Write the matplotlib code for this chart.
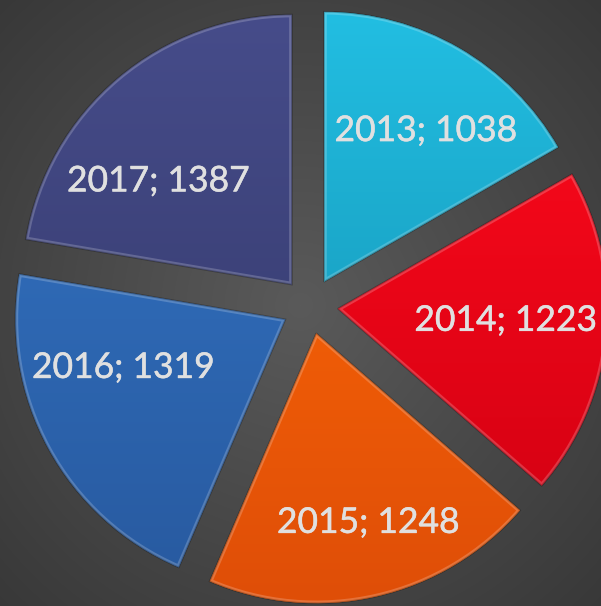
import numpy as np
import matplotlib
matplotlib.use("Agg")
import matplotlib.pyplot as plt
import matplotlib.patheffects as pe
from matplotlib.colors import to_rgb

years = ["2013", "2014", "2015", "2016", "2017"]
values = [1038, 1223, 1248, 1319, 1387]
top_colors = ["#22BEE2", "#FF0A1C", "#FF6A05", "#3374C4", "#464C8A"]
bot_colors = ["#138EAE", "#D00012", "#DF4E08", "#285AA0", "#333869"]
label_dist = [0.673, 0.622, 0.728, 0.628, 0.626]
label_rot = [-3.9, 1.4, 2.4, -11.9, 12.2]

W, H = 601, 606
fig = plt.figure(figsize=(W / 100, H / 100), dpi=100)
ax = fig.add_axes([0, 0, 1, 1])

# background radial gradient
yy, xx = np.mgrid[0:H, 0:W]
rr = np.hypot(xx - 300, yy - 300) / 430
rr = np.clip(rr, 0, 1)
c0 = np.array(to_rgb("#5a5a5a"))
c1 = np.array(to_rgb("#383838"))
bg = c0[None, None, :] * (1 - rr[..., None]) + c1[None, None, :] * rr[..., None]
ax.imshow(bg, extent=[0, W, 0, H], origin="lower", zorder=0)

cx, cy, R = 310, 300, 270
explode = [28] * len(values)
wedges, texts = ax.pie(values, radius=R, center=(cx, cy), explode=explode,
                       startangle=90, counterclock=False,
                       colors=top_colors, frame=True,
                       wedgeprops=dict(linewidth=0))
ax.set_xlim(0, W)
ax.set_ylim(0, H)
ax.set_aspect("equal")
ax.axis("off")

for i, w in enumerate(wedges):
    w.set_zorder(2)
    t = np.linspace(0, 1, 256)[:, None]
    ct = np.array(to_rgb(top_colors[i]))
    cb = np.array(to_rgb(bot_colors[i]))
    grad = cb[None, None, :] * (1 - t[..., None]) + ct[None, None, :] * t[..., None]
    grad = np.repeat(grad, 2, axis=1)
    wx, wy = w.center
    im = ax.imshow(grad, extent=[wx - R, wx + R, wy - R, wy + R], origin="lower",
                   zorder=3, aspect="auto")
    im.set_clip_path(w)
    hl = ax.add_patch(matplotlib.patches.Wedge(w.center, w.r, w.theta1, w.theta2,
                                               fill=False, edgecolor="white",
                                               alpha=0.2, linewidth=4, zorder=4))
    hl.set_clip_path(w)
    ax.add_patch(matplotlib.patches.Wedge(w.center, w.r, w.theta1, w.theta2,
                                          fill=False, edgecolor="black",
                                          alpha=0.25, linewidth=1.2, zorder=4))
    th = np.deg2rad((w.theta1 + w.theta2) / 2 + label_rot[i])
    tx = wx + label_dist[i] * R * np.cos(th)
    ty = wy + label_dist[i] * R * np.sin(th)
    ax.text(tx, ty, f"{years[i]}; {values[i]}", ha="center", va="center",
            fontsize=25.5, color="#E0E0E0", family="Lato", zorder=5,
            path_effects=[pe.withStroke(linewidth=0.35, foreground="#E0E0E0")])

for t in texts:
    t.set_visible(False)

fig.savefig("out.png", dpi=100)
